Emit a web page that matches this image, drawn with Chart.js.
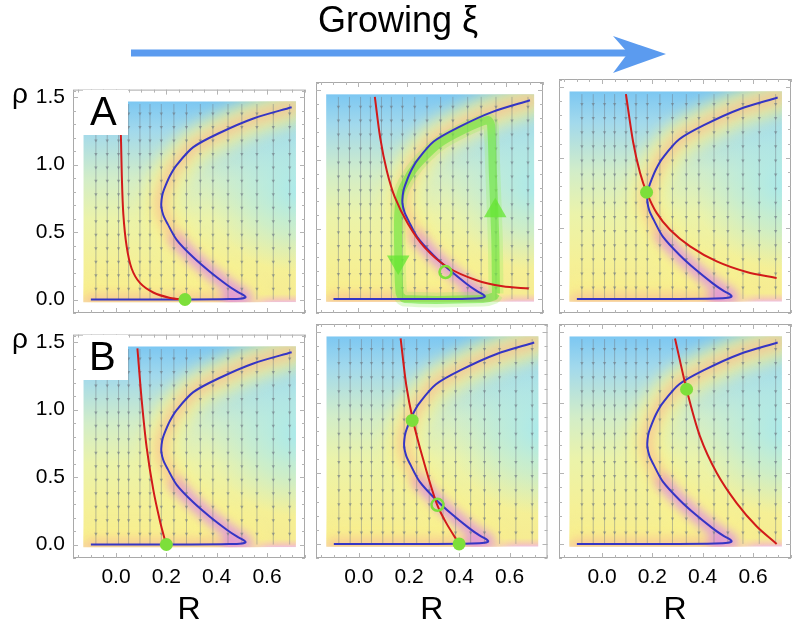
<!DOCTYPE html>
<html lang="en">
<head>
<meta charset="UTF-8" />
<title>Growing xi - phase planes</title>
<script src="https://cdn.jsdelivr.net/npm/chart.js@4.4.0/dist/chart.umd.min.js"></script>
<style>
  body { margin: 0; width: 796px; height: 633px; background: #fff; position: relative; overflow: hidden;
         font-family: "Liberation Sans", Arial, sans-serif; color: #000; }
  canvas { position: absolute; z-index: 1; }
  .txt { position: absolute; z-index: 3; white-space: nowrap; }
  .title { left: 0; top: 0; width: 796px; text-align: center; font-size: 36px; line-height: 40px; }
  .rho { left: 12px; font-size: 28px; line-height: 28px; }
  .box { position: absolute; z-index: 2; background: #fff; width: 45px; height: 45px; }
  .lab { font-size: 40px; line-height: 40px; }
  svg { position: absolute; left: 0; top: 0; z-index: 2; }
</style>
</head>
<body>
  <div class="txt title">Growing ξ</div>
  <svg width="796" height="80">
    <rect x="131" y="49.5" width="497" height="7" fill="#5b9bef" />
    <polygon points="613,36 666,54 613,73 628,53" fill="#5b9bef" />
  </svg>
  <div class="txt rho" style="top:80px">ρ</div>
  <div class="txt rho" style="top:325px">ρ</div>
  <div class="box" style="left:83px; top:90px"></div>
  <div class="box" style="left:83px; top:335px"></div>
  <div class="txt lab" style="left:90px; top:91px">A</div>
  <div class="txt lab" style="left:89px; top:336px">B</div>

<script>
// axes
const xMin = -0.171, xMax = 0.751;
const yMin = -0.1, yMax = 1.557;
const xTicks = [0.0, 0.2, 0.4, 0.6];
const xMinor = [-0.15, -0.1, -0.05, 0.05, 0.1, 0.15, 0.25, 0.3, 0.35, 0.45, 0.5, 0.55, 0.65, 0.7, 0.75];
const yTicks = [0.0, 0.5, 1.0, 1.5];
const yMinor = [-0.1, 0.1, 0.2, 0.3, 0.4, 0.6, 0.7, 0.8, 0.9, 1.1, 1.2, 1.3, 1.4, 1.55];

// extent of the coloured field
const fieldR = [-0.13, 0.715];
const fieldRho = [-0.02, 1.47];

// rho nullcline (same in every panel)
const blueR   = [-0.10, 0.10, 0.30, 0.45, 0.50, 0.515, 0.505, 0.48, 0.44, 0.373, 0.307, 0.241, 0.205, 0.188, 0.180, 0.181, 0.186, 0.198, 0.215, 0.240, 0.307, 0.413, 0.546, 0.698];
const blueRho = [0.0, 0.0, 0.0, 0.003, 0.008, 0.018, 0.035, 0.06, 0.11, 0.206, 0.313, 0.443, 0.561, 0.625, 0.69, 0.74, 0.79, 0.85, 0.92, 0.995, 1.13, 1.237, 1.343, 1.426];

// R nullclines
const redA1R   = [0.015, 0.02, 0.023, 0.029, 0.042, 0.062, 0.095, 0.148, 0.215, 0.274];
const redA1Rho = [1.47, 1.166, 0.917, 0.633, 0.396, 0.23, 0.123, 0.052, 0.012, 0.0];
const redA2R   = [0.068, 0.09, 0.117, 0.15, 0.203, 0.269, 0.362, 0.481, 0.587, 0.693];
const redA2Rho = [1.45, 1.154, 0.917, 0.727, 0.538, 0.372, 0.23, 0.135, 0.092, 0.076];
const redA3R   = [0.095, 0.124, 0.151, 0.178, 0.217, 0.27, 0.35, 0.456, 0.575, 0.694];
const redA3Rho = [1.45, 1.107, 0.893, 0.751, 0.609, 0.49, 0.372, 0.265, 0.19, 0.147];
const redB1R   = [0.085, 0.102, 0.122, 0.148, 0.175, 0.199];
const redB1Rho = [1.455, 1.071, 0.716, 0.407, 0.171, 0.0];
const redB2R   = [0.166, 0.189, 0.216, 0.256, 0.309, 0.348, 0.399];
const redB2Rho = [1.455, 1.118, 0.869, 0.597, 0.289, 0.147, 0.0];
const redB3R   = [0.29, 0.336, 0.389, 0.456, 0.535, 0.615, 0.694];
const redB3Rho = [1.455, 1.095, 0.763, 0.502, 0.289, 0.123, 0.0];

// fixed points (stable filled, unstable open)
const stableA1R = [0.274], stableA1Rho = [0.0];
const openA2R = [0.355], openA2Rho = [0.194];
const stableA3R = [0.177], stableA3Rho = [0.755];
const stableB1R = [0.2], stableB1Rho = [0.0];
const stableB2R = [0.212, 0.399], stableB2Rho = [0.874, 0.0];
const openB2R = [0.313], openB2Rho = [0.277];
const stableB3R = [0.336], stableB3Rho = [1.095];

// limit cycle in the middle top panel
const loopR   = [0.56, 0.557, 0.547, 0.54, 0.527, 0.428, 0.323, 0.229, 0.176, 0.163, 0.163, 0.169, 0.19, 0.507, 0.553, 0.56];
const loopRho = [0.04, 0.443, 0.917, 1.249, 1.284, 1.213, 1.107, 0.94, 0.775, 0.609, 0.325, 0.04, 0.0, 0.0, 0.02, 0.04];
const loopArrowR = [0.163, 0.557], loopArrowRho = [0.265, 0.633];

// stream lines
const streamR = [-0.08, -0.035, 0.01, 0.05, 0.095, 0.135, 0.18, 0.23, 0.28, 0.335, 0.385, 0.445, 0.5, 0.56, 0.625, 0.69];
const streamRho = [0.0, 1.45];
const arrowRho = [0.08, 0.18, 0.28, 0.38, 0.48, 0.58, 0.68, 0.78, 0.88, 0.98, 1.08, 1.18, 1.28, 1.38];

const panels = [
  { col: 0, row: 0, red: [redA1R, redA1Rho], stable: [stableA1R, stableA1Rho] },
  { col: 1, row: 0, red: [redA2R, redA2Rho], open: [openA2R, openA2Rho], loop: true },
  { col: 2, row: 0, red: [redA3R, redA3Rho], stable: [stableA3R, stableA3Rho] },
  { col: 0, row: 1, red: [redB1R, redB1Rho], stable: [stableB1R, stableB1Rho] },
  { col: 1, row: 1, red: [redB2R, redB2Rho], stable: [stableB2R, stableB2Rho], open: [openB2R, openB2Rho] },
  { col: 2, row: 1, red: [redB3R, redB3Rho], stable: [stableB3R, stableB3Rho] }
];

const frameLeft = [73, 316, 559], frameTop = [79, 324];
const padL = 70, padT = 10, padR = 8, padB = 75, frameW = 232, frameH = 234;
const FONT = '"Liberation Sans", Arial, sans-serif';

const pts = (xs, ys) => xs.map((v, i) => ({ x: v, y: ys[i] }));

function fieldRect(chart) {
  const { x, y } = chart.scales;
  const l = x.getPixelForValue(fieldR[0]), r = x.getPixelForValue(fieldR[1]);
  const t = y.getPixelForValue(fieldRho[1]), b = y.getPixelForValue(fieldRho[0]);
  return { l, r, t, b };
}

// coloured background, soft glow, and the framed box with inward ticks
const fieldPlugin = {
  id: 'field',
  beforeDatasetsDraw(chart) {
    const { ctx, scales: { x, y } } = chart;
    const { l, r, t, b } = fieldRect(chart);
    const fr = v => Math.min(1, Math.max(0, (y.getPixelForValue(v) - t) / (b - t)));
    ctx.save();
    ctx.beginPath();
    ctx.rect(l, t, r - l, b - t);
    ctx.clip();
    const base = ctx.createLinearGradient(0, t, 0, b);
    [[1.47, '#7cc7f2'], [1.25, '#a2d9ec'], [0.9, '#d2edc8'], [0.6, '#ebf3aa'], [0.25, '#f5f096'],
     [0.04, '#f6ec92'], [0.0, '#f5cbb4'], [-0.02, '#efc0df']].forEach(([v, c]) => base.addColorStop(fr(v), c));
    ctx.fillStyle = base;
    ctx.fillRect(l, t, r - l, b - t);
    // cyan pool on the right-hand side
    const cx = x.getPixelForValue(0.74), cy = y.getPixelForValue(0.8);
    const rx = x.getPixelForValue(0.74) - x.getPixelForValue(0.36);
    const ry = y.getPixelForValue(0.2) - y.getPixelForValue(0.8);
    ctx.translate(cx, cy);
    ctx.scale(1, ry / rx);
    const rg = ctx.createRadialGradient(0, 0, 0, 0, 0, rx);
    rg.addColorStop(0, 'rgba(160,232,244,0.85)');
    rg.addColorStop(0.55, 'rgba(168,232,238,0.45)');
    rg.addColorStop(1, 'rgba(175,232,232,0)');
    ctx.fillStyle = rg;
    ctx.beginPath();
    ctx.arc(0, 0, rx, 0, Math.PI * 2);
    ctx.fill();
    ctx.restore();
  },
  beforeDatasetDraw(chart, args) {
    const ds = chart.data.datasets[args.index];
    if (!ds.fieldClip) return;
    const { ctx } = chart;
    const { l, r, t, b } = fieldRect(chart);
    ctx.save();
    ctx.beginPath();
    ctx.rect(l, t, r - l, b - t);
    ctx.clip();
    if (ds.blur) ctx.filter = 'blur(' + ds.blur + 'px)';
  },
  afterDatasetDraw(chart, args) {
    if (chart.data.datasets[args.index].fieldClip) chart.ctx.restore();
  },
  afterDraw(chart) {
    const { ctx, chartArea: a, scales: { x, y } } = chart;
    ctx.save();
    ctx.strokeStyle = '#a9a9a9';
    ctx.lineWidth = 1;
    ctx.strokeRect(a.left + 0.5, a.top + 0.5, a.width - 1, a.height - 1);
    ctx.strokeStyle = '#b4b4b4';
    ctx.beginPath();
    const xt = xTicks.map(v => [v, 5]).concat(xMinor.map(v => [v, 3]));
    xt.forEach(([v, len]) => {
      const px = Math.round(x.getPixelForValue(v)) + 0.5;
      ctx.moveTo(px, a.bottom); ctx.lineTo(px, a.bottom - len);
      ctx.moveTo(px, a.top); ctx.lineTo(px, a.top + len);
    });
    const yt = yTicks.map(v => [v, 5]).concat(yMinor.map(v => [v, 3]));
    yt.forEach(([v, len]) => {
      const py = Math.round(y.getPixelForValue(v)) + 0.5;
      ctx.moveTo(a.left, py); ctx.lineTo(a.left + len, py);
      ctx.moveTo(a.right, py); ctx.lineTo(a.right - len, py);
    });
    ctx.stroke();
    ctx.restore();
  }
};

function buildDatasets(p) {
  const ds = [];
  const gray = 'rgba(110,120,130,0.45)';
  // soft glow around the rho nullcline
  ds.push({ data: pts(blueR, blueRho), showLine: true, pointRadius: 0, borderWidth: 34, tension: 0.3,
            borderColor: 'rgba(250,242,140,0.8)', borderCapStyle: 'round', fieldClip: true, blur: 8, order: 10 });
  ds.push({ data: pts(blueR, blueRho), showLine: true, pointRadius: 0, borderWidth: 14, tension: 0.3,
            borderColor: 'rgba(245,180,150,0.55)', borderCapStyle: 'round', fieldClip: true, blur: 5, order: 9,
            segment: { borderColor: c => (c.p0.parsed.y < 0.45 && c.p0.parsed.x > 0.3) ? 'rgba(215,120,245,0.65)' : 'rgba(245,180,150,0.55)' } });
  streamR.forEach(r => {
    ds.push({ data: streamRho.map(v => ({ x: r, y: v })), showLine: true, pointRadius: 0,
              borderWidth: 1, borderColor: gray, order: 7 });
  });
  ds.push({ data: streamR.flatMap(r => arrowRho.map(v => ({ x: r, y: v }))), showLine: false,
            pointStyle: 'triangle', pointRadius: 2, rotation: 180, backgroundColor: 'rgba(110,120,130,0.6)',
            borderWidth: 0, order: 6 });
  if (p.loop) {
    ds.push({ data: pts(loopR, loopRho), showLine: true, pointRadius: 0, borderWidth: 15, tension: 0.25,
              borderColor: 'rgba(150,240,100,0.3)', borderJoinStyle: 'round', order: 5 });
    ds.push({ data: pts(loopR, loopRho), showLine: true, pointRadius: 0, borderWidth: 8, tension: 0.25,
              borderColor: 'rgba(90,225,45,0.6)', borderJoinStyle: 'round', order: 5 });
    ds.push({ data: pts(loopArrowR, loopArrowRho), showLine: false, pointStyle: 'triangle', pointRadius: 13,
              rotation: [180, 0], backgroundColor: 'rgba(100,230,50,0.75)', borderWidth: 0, order: 4 });
  }
  ds.push({ data: pts(blueR, blueRho), showLine: true, pointRadius: 0, borderWidth: 2, tension: 0.3,
            borderColor: '#3535c4', order: 3 });
  ds.push({ data: pts(p.red[0], p.red[1]), showLine: true, pointRadius: 0, borderWidth: 2, tension: 0.3,
            borderColor: '#d21a1a', order: 2 });
  if (p.stable) {
    ds.push({ data: pts(p.stable[0], p.stable[1]), showLine: false, pointRadius: 6.5, borderWidth: 0,
              backgroundColor: '#7ddf3a', order: 1 });
  }
  if (p.open) {
    ds.push({ data: pts(p.open[0], p.open[1]), showLine: false, pointRadius: 6, borderWidth: 2.5,
              borderColor: '#7ddf3a', backgroundColor: 'rgba(0,0,0,0)', order: 1 });
  }
  return ds;
}

panels.forEach(p => {
  const cv = document.createElement('canvas');
  const w = padL + frameW + padR, h = padT + frameH + padB;
  cv.width = w; cv.height = h;
  cv.style.left = (frameLeft[p.col] - padL) + 'px';
  cv.style.top = (frameTop[p.row] - padT) + 'px';
  document.body.appendChild(cv);
  const left = p.col === 0, bottom = p.row === 1;
  new Chart(cv.getContext('2d'), {
    type: 'scatter',
    data: { datasets: buildDatasets(p) },
    plugins: [fieldPlugin],
    options: {
      responsive: false,
      animation: false,
      events: [],
      layout: { padding: { top: padT, right: padR, left: 0, bottom: 0 } },
      plugins: { legend: { display: false }, tooltip: { enabled: false } },
      scales: {
        x: {
          type: 'linear', min: xMin, max: xMax,
          grid: { display: false, drawTicks: false }, border: { display: false },
          afterBuildTicks: s => { s.ticks = xTicks.map(v => ({ value: v })); },
          afterFit: s => { s.height = padB; },
          ticks: { display: bottom, padding: 7, color: '#000', font: { family: FONT, size: 21 },
                   maxRotation: 0, autoSkip: false, callback: v => v.toFixed(1) },
          title: { display: bottom, text: 'R', color: '#000', font: { family: FONT, size: 32 },
                   padding: { top: 0, bottom: 4 } }
        },
        y: {
          type: 'linear', min: yMin, max: yMax,
          grid: { display: false, drawTicks: false }, border: { display: false },
          afterBuildTicks: s => { s.ticks = yTicks.map(v => ({ value: v })); },
          afterFit: s => { s.width = padL; },
          ticks: { display: left, padding: 8, color: '#000', font: { family: FONT, size: 21 },
                   autoSkip: false, callback: v => v.toFixed(1) }
        }
      }
    }
  });
});
</script>
</body>
</html>
